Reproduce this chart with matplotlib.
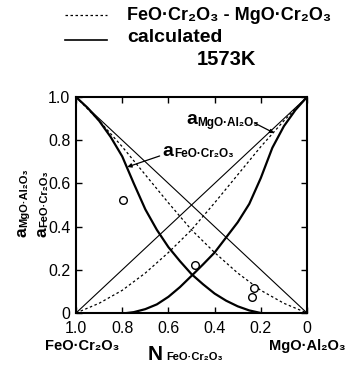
import matplotlib
matplotlib.use("Agg")
import matplotlib.pyplot as plt
from matplotlib.lines import Line2D

plt.rcParams['font.family'] = ['Liberation Sans', 'DejaVu Sans']

# calculated activities (thick lines)
n_fe_calc = [1.0, 0.95, 0.9, 0.85, 0.8, 0.75, 0.7, 0.65, 0.6, 0.55, 0.5, 0.45, 0.4, 0.35, 0.3, 0.25, 0.2]
a_fe_calc = [1.0, 0.95, 0.89, 0.815, 0.725, 0.60, 0.48, 0.385, 0.305, 0.24, 0.18, 0.133, 0.09, 0.057, 0.031, 0.012, 0.0]
n_mg_calc = [0.0, 0.05, 0.1, 0.15, 0.2, 0.25, 0.3, 0.35, 0.4, 0.45, 0.5, 0.55, 0.6, 0.65, 0.7, 0.75, 0.78]
a_mg_calc = [1.0, 0.94, 0.865, 0.765, 0.625, 0.505, 0.42, 0.35, 0.28, 0.225, 0.172, 0.12, 0.075, 0.04, 0.018, 0.004, 0.0]

# FeO.Cr2O3 - MgO.Cr2O3 system (dashed)
n_exp = [1.0, 0.9, 0.8, 0.7, 0.6, 0.5, 0.4, 0.3, 0.2, 0.1, 0.0]
a_fe_exp = [1.0, 0.89, 0.77, 0.64, 0.51, 0.385, 0.28, 0.185, 0.105, 0.045, 0.0]
a_mg_exp = [0.0, 0.045, 0.105, 0.185, 0.28, 0.385, 0.51, 0.64, 0.77, 0.89, 1.0]

# ideal (Raoult) lines
n_ideal = [1.0, 0.0]
a_fe_ideal = [1.0, 0.0]
a_mg_ideal = [0.0, 1.0]

# measured points
n_obs = [0.795, 0.487, 0.228, 0.236]
a_obs = [0.525, 0.222, 0.118, 0.076]

ticks = [1.0, 0.8, 0.6, 0.4, 0.2, 0.0]
tick_labels = ['1.0', '0.8', '0.6', '0.4', '0.2', '0']


def sub_label(ax, x, y, sub, size_a, size_sub, coords, rotation=0):
    # big bold "a" followed by a small bold subscript, both anchored on the baseline
    ax.text(x, y, 'a', fontsize=size_a, fontweight='bold', transform=coords,
            rotation=rotation, rotation_mode='anchor', ha='left', va='baseline')
    step = 0.58 * size_a
    if rotation == 90:
        off = (0.5, step)
    else:
        off = (step, -1.0)
    ax.annotate(sub, xy=(x, y), xycoords=coords, xytext=off, textcoords='offset points',
                fontsize=size_sub, fontweight='bold', rotation=rotation, rotation_mode='anchor',
                ha='left', va='baseline')


fig = plt.figure(figsize=(3.46, 3.67), dpi=100)
ax = fig.add_axes([0.2197, 0.1471, 0.6676, 0.5886])

ax.plot(n_ideal, a_fe_ideal, color='black', lw=0.8)
ax.plot(n_ideal, a_mg_ideal, color='black', lw=0.8)
ax.plot(n_exp, a_fe_exp, color='black', lw=0.9, ls=(0, (2, 2)))
ax.plot(n_exp, a_mg_exp, color='black', lw=0.9, ls=(0, (2, 2)))
ax.plot(n_fe_calc, a_fe_calc, color='black', lw=1.6)
ax.plot(n_mg_calc, a_mg_calc, color='black', lw=1.6)
ax.plot(n_obs, a_obs, ls='none', marker='o', ms=5.5, mfc='white', mec='black', mew=1.0)

ax.set_xlim(1.0, 0.0)
ax.set_ylim(0.0, 1.0)
ax.set_xticks(ticks)
ax.set_xticklabels(tick_labels)
ax.set_yticks(ticks)
ax.set_yticklabels(tick_labels)
ax.tick_params(direction='in', length=4, width=1.0, top=True, right=True, labelsize=11.5)
ax.tick_params(axis='x', pad=6)
ax.tick_params(axis='y', pad=4)
for s in ax.spines.values():
    s.set_linewidth(1.5)

# curve labels
sub_label(ax, 0.522, 0.873, 'MgO·Al₂O₃', 14, 8.5, ax.transData)
ax.annotate('', xy=(0.142, 0.833), xytext=(0.228, 0.88),
            arrowprops=dict(arrowstyle='-|>', color='black', lw=0.9, mutation_scale=6, shrinkA=0, shrinkB=0))
sub_label(ax, 0.625, 0.727, 'FeO·Cr₂O₃', 14, 8.5, ax.transData)
ax.annotate('', xy=(0.778, 0.676), xytext=(0.638, 0.727),
            arrowprops=dict(arrowstyle='-|>', color='black', lw=0.9, mutation_scale=6, shrinkA=0, shrinkB=0))

# y axis labels
sub_label(ax, 0.078, 0.354, 'MgO·Al₂O₃', 12.5, 8, fig.transFigure, rotation=90)
sub_label(ax, 0.135, 0.354, 'FeO·Cr₂O₃', 12.5, 8, fig.transFigure, rotation=90)

# x axis labels
fig.text(0.13, 0.057, 'FeO·Cr₂O₃', fontsize=10.5, fontweight='bold', ha='left', va='center')
fig.text(1.0, 0.057, 'MgO·Al₂O₃', fontsize=10.5, fontweight='bold', ha='right', va='center')
fig.text(0.428, 0.018, 'N', fontsize=15, fontweight='bold', ha='left', va='baseline')
fig.text(0.48, 0.018, 'FeO·Cr₂O₃', fontsize=8, fontweight='bold', ha='left', va='baseline')

# header legend
fig.add_artist(Line2D([0.188, 0.309], [0.959, 0.959], transform=fig.transFigure,
                      color='black', lw=0.9, ls=(0, (2, 2))))
fig.add_artist(Line2D([0.188, 0.309], [0.891, 0.891], transform=fig.transFigure,
                      color='black', lw=1.2))
fig.text(0.367, 0.959, 'FeO·Cr₂O₃ - MgO·Cr₂O₃', fontsize=13, fontweight='bold', ha='left', va='center')
fig.text(0.367, 0.899, 'calculated', fontsize=14, fontweight='bold', ha='left', va='center')
fig.text(0.569, 0.837, '1573K', fontsize=14.5, fontweight='bold', ha='left', va='center')

fig.savefig('out.png', dpi=100)
